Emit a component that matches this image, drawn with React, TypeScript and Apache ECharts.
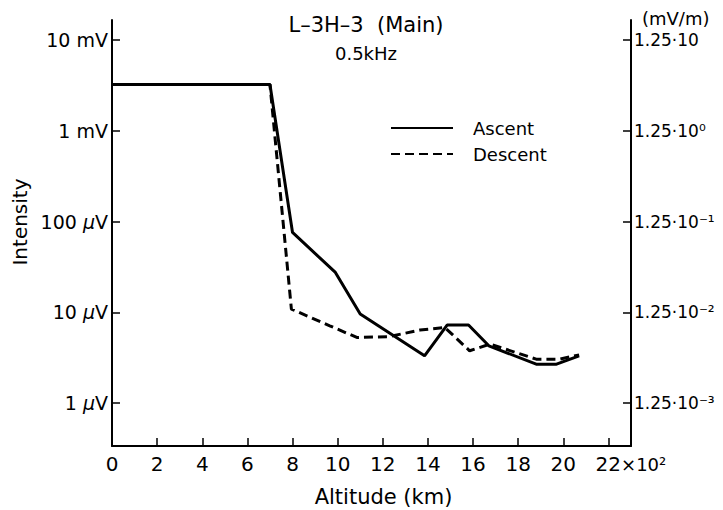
import React, { useEffect, useRef } from 'react';
import * as echarts from 'echarts';

// Altitude in units of 10^2 km, intensity in µV
const ascentAltitude = [0, 7, 8, 9.9, 11, 13.85, 14.85, 15.8, 16.7, 18.8, 19.7, 20.7];
const ascentIntensity = [3240, 3240, 76, 27.6, 9.6, 3.33, 7.26, 7.26, 4.29, 2.69, 2.69, 3.33];
const descentAltitude = [0, 7, 7.95, 9.65, 10.85, 12.25, 13.65, 14.75, 15.85, 16.75, 18.8, 19.85, 20.7];
const descentIntensity = [3240, 3240, 10.9, 7.13, 5.3, 5.4, 6.4, 6.83, 3.78, 4.48, 3.06, 3.06, 3.41];

const altitudeTicks = [0, 2, 4, 6, 8, 10, 12, 14, 16, 18, 20, 22];
const intensityTicks = [1, 10, 100, 1000, 10000];
const intensityLabels = ['1 {m|μ}V', '10 {m|μ}V', '100 {m|μ}V', '1 mV', '10 mV'];
const fieldLabels = ['1.25·10⁻³', '1.25·10⁻²', '1.25·10⁻¹', '1.25·10⁰', '1.25·10'];

const FONT = '"DejaVu Sans", sans-serif';
const INK = '#000';

export default function App() {
  const ref = useRef<HTMLDivElement>(null);
  useEffect(() => {
    const chart = echarts.init(ref.current!, null, { renderer: 'svg' });
    const ascent = ascentAltitude.map((x, i) => [x, ascentIntensity[i]]);
    const descent = descentAltitude.map((x, i) => [x, descentIntensity[i]]);
    const decadeIndex = (v: number) => Math.round(Math.log10(v));
    chart.setOption({
      animation: false,
      backgroundColor: '#fff',
      textStyle: { fontFamily: FONT, color: INK },
      title: [
        {
          text: 'L–3H–3  (Main)', left: 366, top: 14, textAlign: 'center', padding: 0,
          textStyle: { fontSize: 21, fontWeight: 'normal', color: INK, fontFamily: FONT },
        },
        {
          text: '0.5kHz', left: 366, top: 44, textAlign: 'center', padding: 0,
          textStyle: { fontSize: 18, fontWeight: 'normal', color: INK, fontFamily: FONT },
        },
      ],
      legend: {
        orient: 'vertical', left: 390, top: 119, padding: 0,
        itemWidth: 62, itemHeight: 14, itemGap: 8,
        data: ['Ascent', 'Descent'],
        itemStyle: { opacity: 0 },
        textStyle: { fontSize: 18, color: INK, fontFamily: FONT, padding: [0, 0, 0, 15] },
      },
      grid: { left: 112, right: 92, top: 20, bottom: 64, containLabel: false, outerBoundsMode: 'none' },
      xAxis: {
        type: 'value', min: 0, max: 23,
        name: 'Altitude (km)', nameLocation: 'middle', nameGap: 40,
        nameTextStyle: { fontSize: 21, color: INK, fontFamily: FONT, padding: [0, 0, 0, 24] },
        axisLine: { onZero: false, lineStyle: { color: INK, width: 2 } },
        axisTick: { inside: true, length: 8, customValues: altitudeTicks, lineStyle: { color: INK, width: 1.5 } },
        axisLabel: {
          customValues: altitudeTicks, margin: 8, fontSize: 20, color: INK, fontFamily: FONT,
          formatter: (v: number) => (v === 22 ? '{a|22}{b|×10²}' : String(v)),
          rich: {
            a: { fontSize: 20, color: INK, fontFamily: FONT, padding: [0, 0, 0, 45] },
            b: { fontSize: 18, color: INK, fontFamily: FONT },
          },
        },
        splitLine: { show: false },
      },
      yAxis: [
        {
          type: 'log', logBase: 10, min: 0.338, max: 16630, position: 'left',
          name: 'Intensity', nameLocation: 'middle', nameGap: 78, nameRotate: 90,
          nameTextStyle: { fontSize: 20, color: INK, fontFamily: FONT, padding: [0, 0, 0, 22] },
          axisLine: { show: true, lineStyle: { color: INK, width: 2 } },
          axisTick: { show: true, inside: true, length: 8, customValues: intensityTicks, lineStyle: { color: INK, width: 1.5 } },
          axisLabel: {
            customValues: intensityTicks, margin: 4, fontSize: 19, color: INK, fontFamily: FONT,
            formatter: (v: number) => intensityLabels[decadeIndex(v)],
            rich: { m: { fontSize: 19, fontStyle: 'italic', color: INK, fontFamily: FONT } },
          },
          splitLine: { show: false },
        },
        {
          type: 'log', logBase: 10, min: 0.338, max: 16630, position: 'right',
          name: '(mV/m)', nameLocation: 'end', nameGap: 2,
          nameTextStyle: { fontSize: 18, color: INK, fontFamily: FONT, align: 'left', verticalAlign: 'middle', padding: [0, 0, 0, 11] },
          axisLine: { show: true, lineStyle: { color: INK, width: 2 } },
          axisTick: { show: true, inside: true, length: 8, customValues: intensityTicks, lineStyle: { color: INK, width: 1.5 } },
          axisLabel: {
            customValues: intensityTicks, margin: 3, fontSize: 17, color: INK, fontFamily: FONT,
            formatter: (v: number) => fieldLabels[decadeIndex(v)],
          },
          splitLine: { show: false },
        },
      ],
      series: [
        {
          name: 'Descent', type: 'line', data: descent, yAxisIndex: 0, symbol: 'none', z: 2,
          lineStyle: { color: INK, width: 3, type: [9, 5] }, itemStyle: { color: INK },
        },
        {
          name: 'Ascent', type: 'line', data: ascent, yAxisIndex: 0, symbol: 'none', z: 3,
          lineStyle: { color: INK, width: 3 }, itemStyle: { color: INK },
        },
      ],
    });
    return () => chart.dispose();
  }, []);
  return <div ref={ref} style={{ position: 'fixed', left: 0, top: 0, width: 723, height: 510 }} />;
}
